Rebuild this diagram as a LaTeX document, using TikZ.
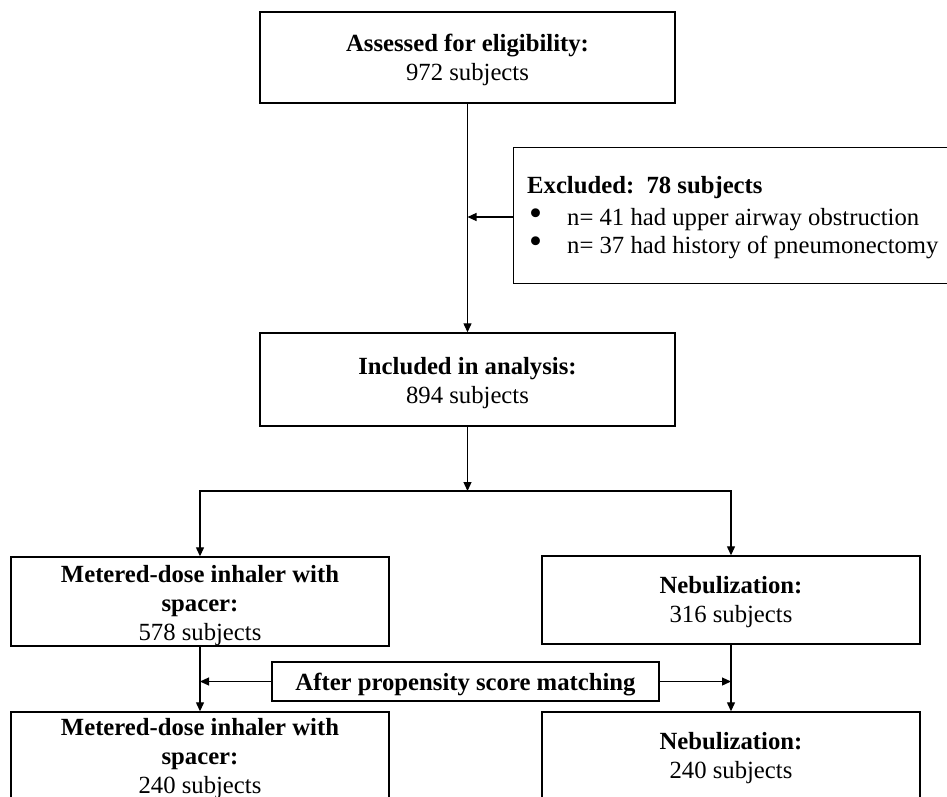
\documentclass[tikz,border=0pt]{standalone}
\usepackage{fontspec}
\setmainfont{Liberation Serif}
\usetikzlibrary{arrows.meta}
\tikzset{
  box/.style={draw, line width=1.4pt, rectangle, inner sep=0pt, align=center,
    text depth=0pt, font=\fontsize{24.7}{29}\selectfont},
  arr/.style={line width=1.2pt, -{Triangle[length=9pt,width=8pt]}}
}
\newcommand{\bul}{\hspace*{2pt}\makebox[38pt][l]{\scalebox{1.5}{\textbullet}}}
\begin{document}
\begin{tikzpicture}[x=1pt,y=-1pt]
\useasboundingbox (0,0) rectangle (947,796);
\clip (0,0) rectangle (947,796);
\node[box, minimum width=415pt, minimum height=91pt, text height=45pt] (top) at (467.5,57.5)
  {\textbf{Assessed for eligibility:}\\972 subjects};
\node[box, minimum width=415pt, minimum height=93pt, text height=47pt] (incl) at (467.5,379.5)
  {\textbf{Included in analysis:}\\894 subjects};
\node[box, anchor=north west, minimum width=460pt, minimum height=136pt] (excl) at (513,147) {};
\node[anchor=base west, inner sep=0pt, align=left, font=\fontsize{24.7}{28}\selectfont] (excltext) at (527,253)
  {\textbf{Excluded:\ \ 78 subjects}\\[4pt]
   \bul n= 41 had upper airway obstruction\\
   \bul n= 37 had history of pneumonectomy};
\node[box, minimum width=378pt, minimum height=89pt, text height=77pt] (mdi1) at (200,601.5)
  {\textbf{Metered-dose inhaler with}\\\textbf{spacer:}\\578 subjects};
\node[box, minimum width=378pt, minimum height=88pt, text height=44pt] (neb1) at (731,600)
  {\textbf{Nebulization:}\\316 subjects};
\node[box, minimum width=387pt, minimum height=39pt, text height=17pt] (prop) at (465.5,681.5)
  {\textbf{After propensity score matching}};
\node[box, minimum width=378pt, minimum height=89pt, text height=74pt] (mdi2) at (200,756.5)
  {\textbf{Metered-dose inhaler with}\\\textbf{spacer:}\\240 subjects};
\node[box, minimum width=378pt, minimum height=88pt, text height=44pt] (neb2) at (731,756)
  {\textbf{Nebulization:}\\240 subjects};
\coordinate (exj) at (467.5,217);
\coordinate (br) at (467.5,491);
\draw[arr] (top.south) -- (incl.north);
\draw[arr] (excl.west |- exj) -- (exj);
\draw[arr] (incl.south) -- (br);
\draw[arr] (br) -| (mdi1.north);
\draw[arr] (br) -| (neb1.north);
\draw[arr] (mdi1.south) -- (mdi2.north);
\draw[arr] (neb1.south) -- (neb2.north);
\draw[arr] (prop.west) -- (prop.west -| mdi1.south);
\draw[arr] (prop.east) -- (prop.east -| neb1.south);
\end{tikzpicture}
\end{document}
